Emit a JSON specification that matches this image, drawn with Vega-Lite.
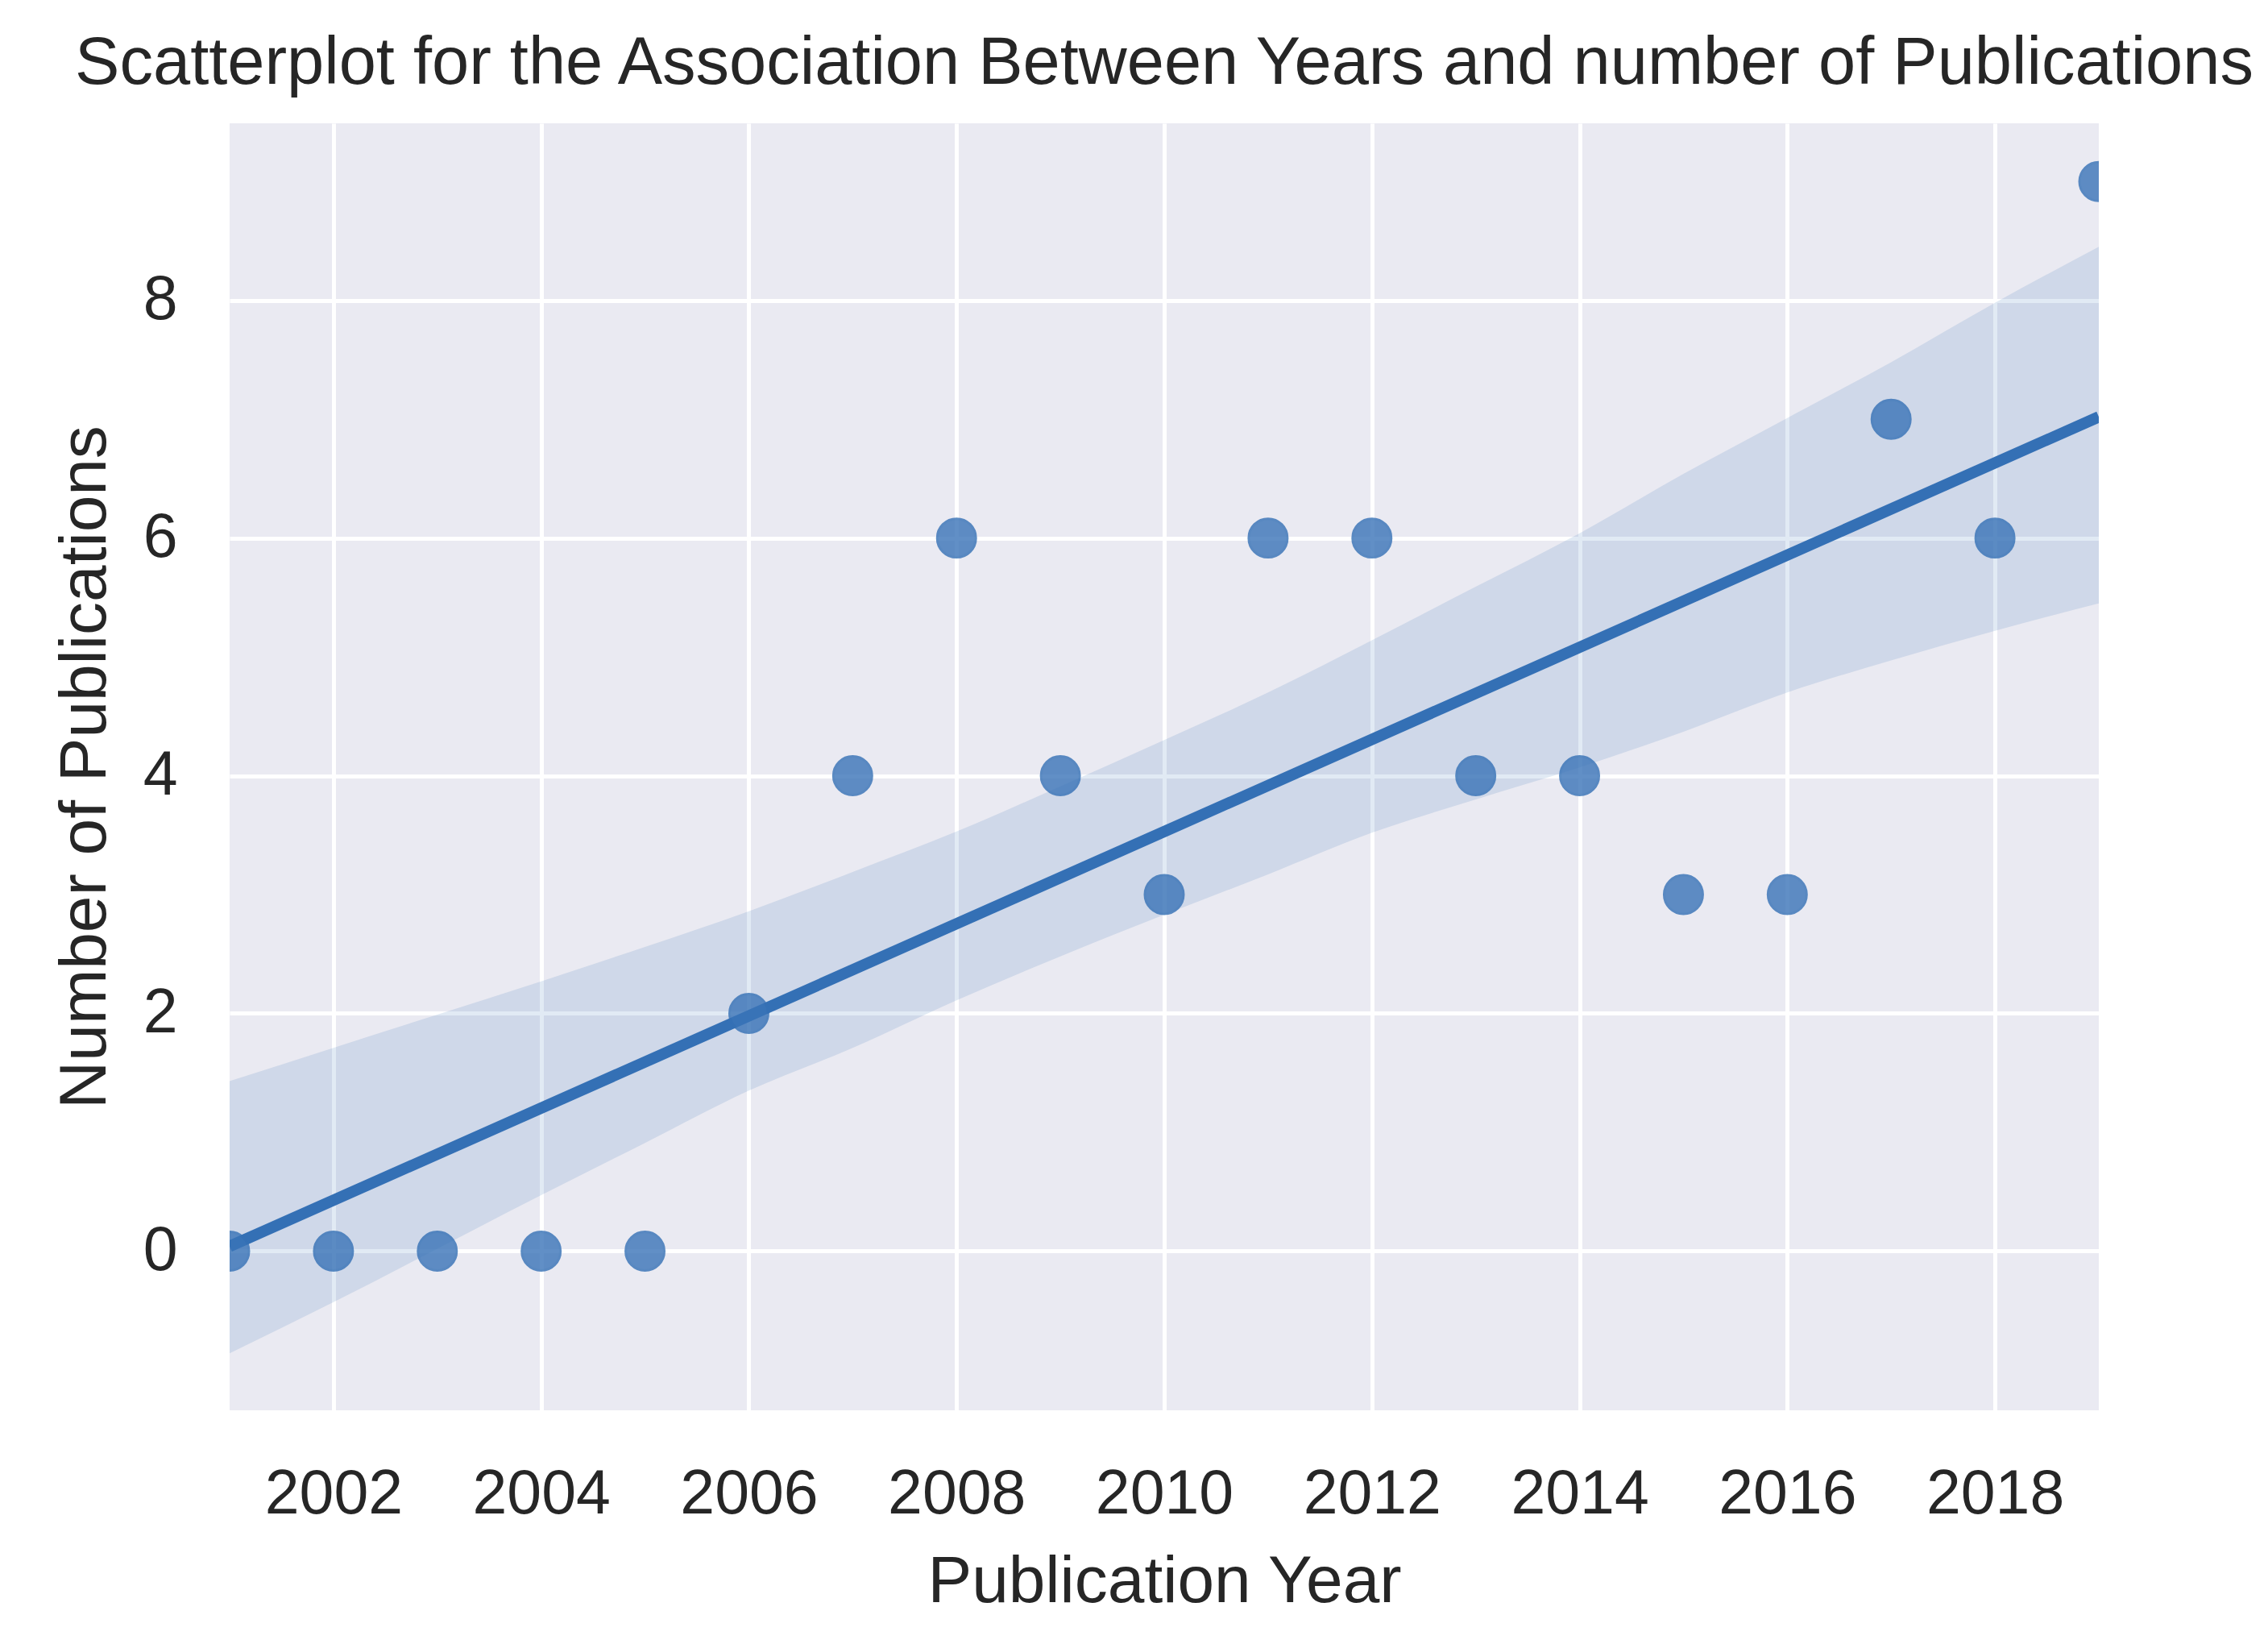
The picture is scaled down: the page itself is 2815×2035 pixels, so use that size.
{
  "$schema": "https://vega.github.io/schema/vega-lite/v6.json",
  "autosize": "none",
  "width": 2320,
  "height": 1597,
  "padding": {"left": 285, "top": 153, "right": 210, "bottom": 285},
  "background": "white",
  "config": {
    "view": {"fill": "#EAEAF2", "stroke": null},
    "font": "Liberation Sans",
    "axis": {
      "domain": false,
      "ticks": false,
      "gridColor": "white",
      "gridWidth": 5,
      "gridOpacity": 1,
      "labelFont": "Liberation Sans",
      "labelFontSize": 77,
      "labelColor": "#262626",
      "titleFont": "Liberation Sans",
      "titleFontSize": 82,
      "titleFontWeight": "normal",
      "titleColor": "#262626"
    }
  },
  "title": {
    "text": "Scatterplot for the Association Between Years and number of Publications",
    "font": "Liberation Sans",
    "fontSize": 83,
    "fontWeight": "normal",
    "color": "#262626",
    "anchor": "middle",
    "baseline": "alphabetic",
    "offset": -34
  },
  "datasets": {
    "points": [
      {"year": 2001, "count": 0},
      {"year": 2002, "count": 0},
      {"year": 2003, "count": 0},
      {"year": 2004, "count": 0},
      {"year": 2005, "count": 0},
      {"year": 2006, "count": 2},
      {"year": 2007, "count": 4},
      {"year": 2008, "count": 6},
      {"year": 2009, "count": 4},
      {"year": 2010, "count": 3},
      {"year": 2011, "count": 6},
      {"year": 2012, "count": 6},
      {"year": 2013, "count": 4},
      {"year": 2014, "count": 4},
      {"year": 2015, "count": 3},
      {"year": 2016, "count": 3},
      {"year": 2017, "count": 7},
      {"year": 2018, "count": 6},
      {"year": 2019, "count": 9}
    ],
    "band": [
      {"year": 2001, "lo": -0.86, "hi": 1.43},
      {"year": 2002, "lo": -0.43, "hi": 1.71},
      {"year": 2003, "lo": 0.02, "hi": 1.99},
      {"year": 2004, "lo": 0.47, "hi": 2.27},
      {"year": 2005, "lo": 0.91, "hi": 2.56},
      {"year": 2006, "lo": 1.35, "hi": 2.86},
      {"year": 2007, "lo": 1.71, "hi": 3.19},
      {"year": 2008, "lo": 2.11, "hi": 3.53},
      {"year": 2009, "lo": 2.48, "hi": 3.91},
      {"year": 2010, "lo": 2.83, "hi": 4.3},
      {"year": 2011, "lo": 3.17, "hi": 4.7},
      {"year": 2012, "lo": 3.52, "hi": 5.14},
      {"year": 2013, "lo": 3.8, "hi": 5.59},
      {"year": 2014, "lo": 4.07, "hi": 6.04},
      {"year": 2015, "lo": 4.37, "hi": 6.54},
      {"year": 2016, "lo": 4.7, "hi": 7.01},
      {"year": 2017, "lo": 4.97, "hi": 7.48},
      {"year": 2018, "lo": 5.22, "hi": 7.98},
      {"year": 2019, "lo": 5.45, "hi": 8.45}
    ],
    "fit": [
      {"year": 2001, "fit": 0.04},
      {"year": 2019, "fit": 7.02}
    ]
  },
  "layer": [
    {
      "data": {"name": "band"},
      "mark": {"type": "area", "color": "#3470B5", "opacity": 0.15, "clip": true, "interpolate": "monotone"},
      "encoding": {
        "x": {
          "field": "year", "type": "quantitative",
          "scale": {"domain": [2001, 2019], "nice": false, "zero": false},
          "axis": {"values": [2002, 2004, 2006, 2008, 2010, 2012, 2014, 2016, 2018], "format": "d", "labelPadding": 66, "titlePadding": 30, "title": "Publication Year"}
        },
        "y": {
          "field": "lo", "type": "quantitative",
          "scale": {"domain": [-1.34, 9.49], "nice": false, "zero": false},
          "axis": {"values": [0, 2, 4, 6, 8], "format": "d", "labelPadding": 65, "titlePadding": 30, "title": "Number of Publications"}
        },
        "y2": {"field": "hi"}
      }
    },
    {
      "data": {"name": "fit"},
      "mark": {"type": "line", "color": "#3470B5", "strokeWidth": 14, "clip": true},
      "encoding": {
        "x": {"field": "year", "type": "quantitative"},
        "y": {"field": "fit", "type": "quantitative"}
      }
    },
    {
      "data": {"name": "points"},
      "mark": {"type": "point", "filled": true, "shape": "circle", "size": 2300, "color": "#3A74B8", "opacity": 0.8, "stroke": "#3470B5", "strokeWidth": 3, "clip": true},
      "encoding": {
        "x": {"field": "year", "type": "quantitative"},
        "y": {"field": "count", "type": "quantitative"}
      }
    }
  ]
}
